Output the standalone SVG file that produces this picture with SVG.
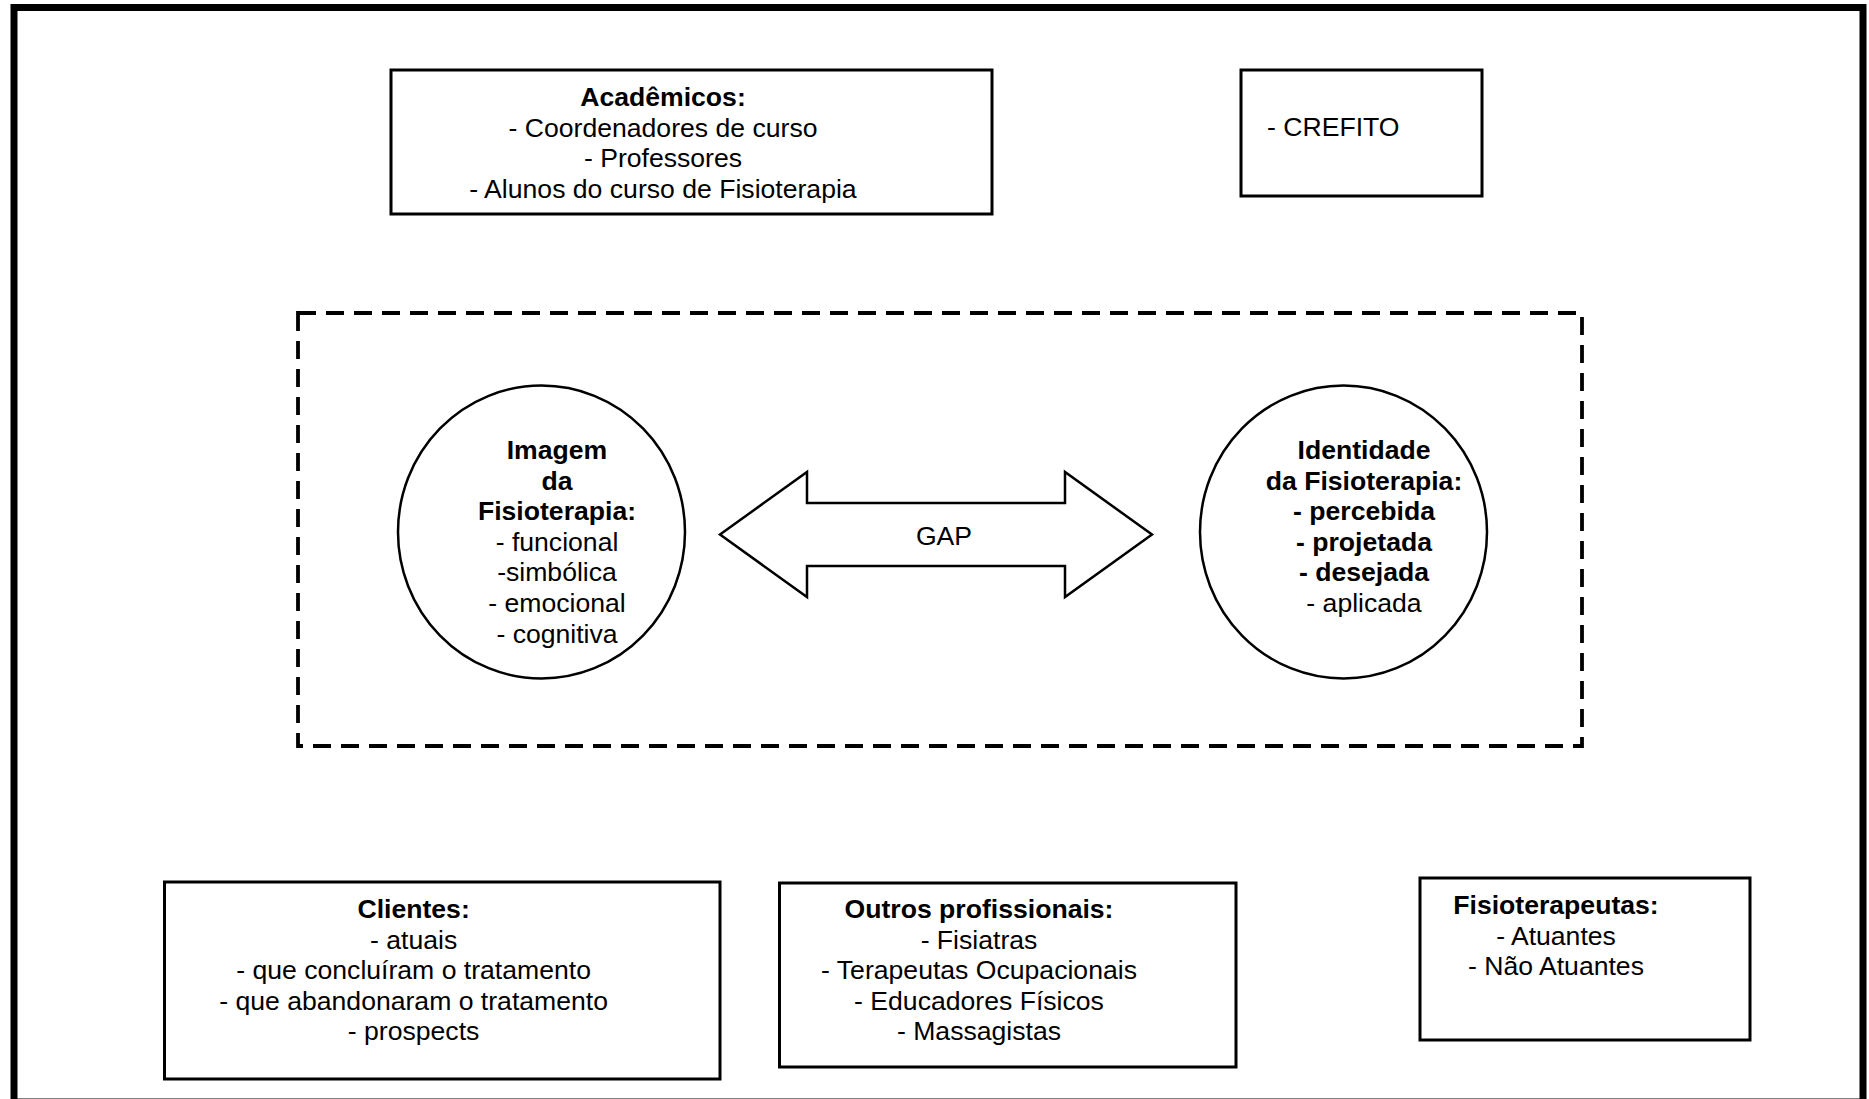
<svg xmlns="http://www.w3.org/2000/svg" width="1869" height="1099" viewBox="0 0 1869 1099">
<style>
text{font-family:"Liberation Sans",Arial,sans-serif;font-size:26.6px;fill:#000;text-anchor:middle}
.b{font-weight:bold}
.box{fill:#fff;stroke:#000;stroke-width:3}
.circ{fill:#fff;stroke:#000;stroke-width:2.5}
</style>
<rect x="0" y="0" width="1869" height="1099" fill="#fff"/>
<rect id="frame" x="14" y="7.5" width="1849" height="1094.5" fill="none" stroke="#000" stroke-width="7"/>
<rect id="scope" x="298" y="313" width="1284" height="433" fill="none" stroke="#000" stroke-width="3.8" stroke-dasharray="18 10"/>
<g id="academicos">
<rect class="box" x="391" y="70" width="601" height="144"/>
<text x="663" y="106" class="b">Acadêmicos:</text>
<text x="663" y="136.6">- Coordenadores de curso</text>
<text x="663" y="167.2">- Professores</text>
<text x="663" y="197.8">- Alunos do curso de Fisioterapia</text>
</g>
<g id="crefito">
<rect class="box" x="1241" y="70" width="241" height="126"/>
<text x="1267" y="136" style="text-anchor:start">- CREFITO</text>
</g>
<g id="imagem">
<ellipse class="circ" cx="541.5" cy="532" rx="143.5" ry="146.5"/>
<text x="557" y="459" class="b">Imagem</text>
<text x="557" y="489.6" class="b">da</text>
<text x="557" y="520.2" class="b">Fisioterapia:</text>
<text x="557" y="550.8">- funcional</text>
<text x="557" y="581.4">-simbólica</text>
<text x="557" y="612">- emocional</text>
<text x="557" y="642.6">- cognitiva</text>
</g>
<g id="identidade">
<ellipse class="circ" cx="1343.5" cy="532" rx="143.5" ry="146.5"/>
<text x="1364" y="459" class="b">Identidade</text>
<text x="1364" y="489.6" class="b">da Fisioterapia:</text>
<text x="1364" y="520.2" class="b">- percebida</text>
<text x="1364" y="550.8" class="b">- projetada</text>
<text x="1364" y="581.4" class="b">- desejada</text>
<text x="1364" y="612">- aplicada</text>
</g>
<g id="connectors">
<g id="gap">
<polygon points="720,534.5 807,472 807,503 1065,503 1065,472 1152,534.5 1065,597 1065,566 807,566 807,597" fill="#fff" stroke="#000" stroke-width="2.5" stroke-linejoin="miter"/>
<text x="944" y="545">GAP</text>
</g>
</g>
<g id="clientes">
<rect class="box" x="164.5" y="882" width="555.5" height="197"/>
<text x="413.6" y="918" class="b">Clientes:</text>
<text x="413.6" y="948.6">- atuais</text>
<text x="413.6" y="979.2">- que concluíram o tratamento</text>
<text x="413.6" y="1009.8">- que abandonaram o tratamento</text>
<text x="413.6" y="1040.4">- prospects</text>
</g>
<g id="outros">
<rect class="box" x="779.5" y="883" width="456.5" height="184"/>
<text x="979" y="918" class="b">Outros profissionais:</text>
<text x="979" y="948.6">- Fisiatras</text>
<text x="979" y="979.2">- Terapeutas Ocupacionais</text>
<text x="979" y="1009.8">- Educadores Físicos</text>
<text x="979" y="1040.4">- Massagistas</text>
</g>
<g id="fisioterapeutas">
<rect class="box" x="1420" y="878" width="330" height="162"/>
<text x="1556" y="914" class="b">Fisioterapeutas:</text>
<text x="1556" y="944.6">- Atuantes</text>
<text x="1556" y="975.2">- Não Atuantes</text>
</g>
</svg>
